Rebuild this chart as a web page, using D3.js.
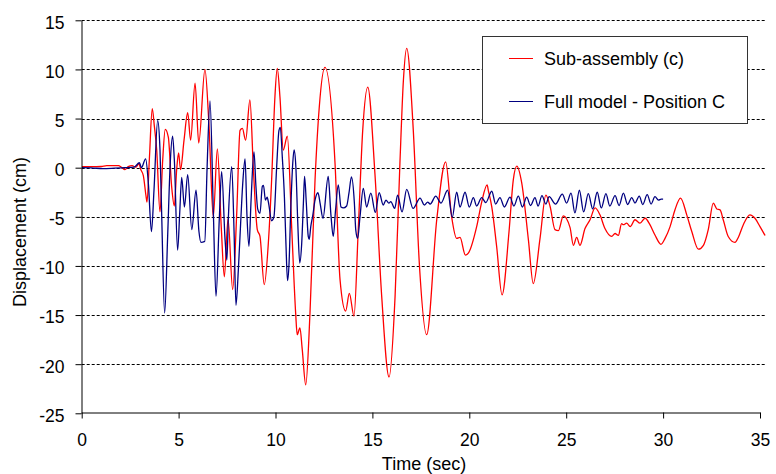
<!DOCTYPE html>
<html>
<head>
<meta charset="utf-8">
<script src="https://cdn.jsdelivr.net/npm/d3@7"></script>
<style>
  html, body { margin: 0; padding: 0; background: #fff; }
  svg { display: block; font-family: "Liberation Sans", Arial, sans-serif; }
</style>
</head>
<body>
<svg id="chart" width="776" height="474"></svg>
<script>
// Tick values for both axes
const xTicks = [0, 5, 10, 15, 20, 25, 30, 35];
const yTicks = [-25, -20, -15, -10, -5, 0, 5, 10, 15];

// Series names
const seriesNames = ["Sub-assembly (c)", "Full model - Position C"];

// Sub-assembly (c): time (s) and displacement (cm) at the turning points of the record
const subTime = [0, 0.5, 1.0, 1.3, 1.9, 2.05, 2.23, 2.4, 2.6, 2.8, 2.95, 3.05, 3.18, 3.32, 3.37, 3.49, 3.64, 3.75, 3.87, 4.04,
  4.18, 4.31, 4.47, 4.64, 4.78, 4.9, 5.0, 5.1, 5.28, 5.47, 5.62, 5.85, 6.04, 6.36, 6.57, 6.79, 7.0, 7.2, 7.36, 7.55,
  7.79, 8.0, 8.17, 8.29, 8.46, 8.68, 8.86, 9.06, 9.2, 9.42, 9.63, 9.8, 9.97, 10.09, 10.23, 10.4, 10.61, 10.84, 11.04, 11.12,
  11.26, 11.38, 11.56, 11.78, 12.04, 12.26, 12.55, 13.07, 13.33, 13.62, 13.81, 14.05, 14.27, 14.5, 14.76, 15.13, 15.48, 15.86, 16.17, 16.42,
  16.6, 16.77, 17.11, 17.42, 17.8, 18.32, 18.78, 19.09, 19.35, 19.52, 19.8, 19.95, 20.38, 20.64, 20.92, 20.98, 21.16, 21.41, 21.69, 22.05,
  22.27, 22.45, 22.7, 23.05, 23.3, 23.65, 23.95, 24.17, 24.42, 24.6, 24.85, 25.2, 25.37, 25.54, 25.71, 25.97, 26.23, 26.49, 26.74, 27.0,
  27.35, 27.52, 27.69, 27.86, 27.95, 28.12, 28.3, 28.55, 28.81, 29.07, 29.32, 29.58, 29.89, 30.1, 30.36, 30.61, 30.9, 31.22, 31.48, 31.82,
  32.08, 32.33, 32.59, 32.77, 32.94, 33.11, 33.36, 33.71, 33.88, 34.14, 34.48, 34.74, 35.0, 35.26];
const subDisp = [0.1, 0.1, 0.12, 0.2, 0.2, 0.05, -0.2, 0.1, 0.2, 0.05, 0.4, -0.2, -0.8, -2.9, -3.5, 0.8, 6.0, 4.2, 1.8, -4.5,
  0.8, 3.9, 3.1, -1.9, -3.9, -0.2, 1.5, -0.2, 2.8, 5.6, 2.8, 8.6, 2.5, 10.0, 4.2, -5.0, 1.9, -6.0, -11.1, -5.2,
  -12.4, -4.6, 3.8, 4.0, 2.8, 6.9, -0.2, -6.3, -7.0, -11.9, -7.7, -1.25, 7.2, 10.1, 7.2, 1.8, 3.2, -6.3, -14.8, -17.0,
  -16.3, -18.5, -22.1, -14.8, -1.25, 6.2, 10.2, 0.5, -11.4, -14.6, -12.8, -15.1, -6.3, 3.8, 8.2, -0.6, -13.1, -21.3, -13.1, 0.45,
  8.9, 12.15, 3.8, -9.7, -17.0, -5.3, 0.6, -5.0, -7.2, -7.1, -8.9, -8.7, -6.0, -3.5, -1.76, -2.3, -4.0, -8.0, -12.95, -6.5,
  -1.25, 0.15, -1.5, -7.35, -11.8, -7.2, -2.8, -3.95, -6.3, -6.4, -4.9, -6.1, -7.9, -7.1, -7.9, -6.2, -5.3, -4.1, -4.8, -6.2,
  -7.0, -6.7, -6.9, -5.7, -5.8, -5.65, -6.0, -5.3, -5.65, -5.15, -5.8, -6.85, -7.8, -7.2, -6.0, -4.3, -3.1, -4.8, -6.5, -8.3,
  -7.9, -6.3, -3.6, -4.2, -4.3, -5.35, -7.0, -7.6, -7.1, -5.8, -4.8, -5.15, -6.0, -6.9];

// Full model - Position C: time (s) and displacement (cm)
const fullTime = [0, 0.5, 1.1, 1.7, 2.2, 2.7, 2.98, 3.08, 3.3, 3.44, 3.6, 3.73, 3.92, 4.04, 4.13, 4.28, 4.44, 4.56, 4.69, 4.78,
  4.95, 5.06, 5.16, 5.3, 5.47, 5.68, 5.9, 6.05, 6.15, 6.35, 6.47, 6.62, 6.79, 6.93, 7.1, 7.22, 7.4, 7.49, 7.57, 7.74,
  7.86, 7.96, 8.08, 8.2, 8.31, 8.43, 8.53, 8.63, 8.74, 8.89, 8.99, 9.08, 9.2, 9.32, 9.38, 9.48, 9.57, 9.65, 9.8, 9.92,
  10.06, 10.18, 10.25, 10.35, 10.46, 10.54, 10.62, 10.7, 10.78, 10.89, 10.96, 11.05, 11.15, 11.25, 11.35, 11.44, 11.5, 11.59, 11.69, 11.74,
  11.82, 11.92, 12.04, 12.19, 12.3, 12.45, 12.72, 12.86, 12.98, 13.1, 13.24, 13.38, 13.5, 13.67, 13.79, 13.92, 14.07, 14.14, 14.24, 14.36,
  14.53, 14.7, 14.92, 15.15, 15.35, 15.56, 15.7, 15.85, 15.95, 16.15, 16.3, 16.53, 16.77, 17.1, 17.46, 17.68, 17.85, 17.98, 18.27, 18.54,
  18.88, 19.12, 19.35, 19.52, 19.78, 20.0, 20.21, 20.38, 20.64, 20.85, 21.16, 21.36, 21.58, 21.81, 22.1, 22.3, 22.53, 22.74, 22.96, 23.16,
  23.39, 23.55, 23.75, 23.95, 24.12, 24.45, 24.8, 25.02, 25.25, 25.45, 25.68, 25.9, 26.14, 26.37, 26.6, 26.81, 27.05, 27.25, 27.52, 27.73,
  27.95, 28.17, 28.38, 28.55, 28.77, 28.95, 29.18, 29.38, 29.58, 29.76, 29.9, 30.0];
const fullDisp = [0, -0.02, -0.1, -0.05, 0, 0.05, 0.5, 0.0, 0.9, -1.6, -6.5, -2.3, 4.8, 1.8, -5.0, -14.8, -6.7, 0.1, 3.2, 0.8,
  -8.4, -4.5, -1.0, -4.0, -0.7, -6.3, -2.3, -6.5, -7.6, -7.5, 0.0, 6.8, -4.3, -13.1, -5.2, -0.4, -7.4, -9.4, -5.0, 0.1,
  -6.4, -14.0, -10.5, -5.7, -1.6, 0.9, -5.0, -8.0, -3.3, 1.6, -1.9, -4.2, -4.65, -1.9, -1.8, -3.3, -3.0, -3.7, -5.4, -5.0,
  0.1, 3.8, 4.1, 1.1, -3.0, -7.8, -11.5, -9.7, -4.65, 0.45, 1.8, 0.1, -5.65, -9.7, -7.8, -3.6, -0.9, -3.6, -7.0, -7.3,
  -6.0, -4.9, -3.3, -2.55, -3.6, -5.15, -0.9, -4.8, -7.0, -4.3, -1.76, -4.0, -4.1, -3.9, -2.6, -0.95, -3.6, -6.3, -7.2, -5.0,
  -2.1, -4.0, -2.6, -4.55, -2.55, -3.8, -3.3, -3.6, -3.45, -4.15, -2.8, -4.5, -2.2, -4.15, -3.1, -3.8, -3.5, -3.7, -2.9, -3.6,
  -2.3, -5.05, -2.5, -4.0, -2.5, -4.0, -3.05, -3.9, -3.05, -3.55, -2.4, -3.7, -3.05, -4.0, -3.0, -3.9, -2.9, -4.0, -3.0, -3.85,
  -3.05, -3.9, -2.85, -3.7, -2.95, -3.7, -2.7, -3.6, -2.6, -4.6, -2.3, -4.5, -2.65, -4.2, -2.5, -4.1, -2.65, -3.9, -2.85, -3.85,
  -2.6, -3.75, -3.05, -3.6, -2.9, -3.75, -2.75, -3.7, -2.95, -3.3, -3.2, -3.2];

const seriesColors = ["#ff0000", "#000080"];

const svg = d3.select("#chart");

const plot = { left: 81.7, right: 760, top: 20.3, bottom: 413.3, gridRight: 766 };

const x = d3.scaleLinear().domain([0, 35]).range([plot.left, plot.right]);
const y = d3.scaleLinear().domain([-25, 15]).range([plot.bottom, plot.top]);

svg.append("defs").append("clipPath").attr("id", "plot-clip")
  .append("rect")
  .attr("x", plot.left).attr("y", plot.top - 2)
  .attr("width", plot.gridRight - plot.left).attr("height", plot.bottom - plot.top + 2);

// Dashed horizontal gridlines
svg.append("g").attr("class", "grid")
  .selectAll("line")
  .data(yTicks.filter(d => d > -25))
  .join("line")
  .attr("x1", plot.left).attr("x2", plot.gridRight)
  .attr("y1", d => Math.round(y(d)) + 0.5).attr("y2", d => Math.round(y(d)) + 0.5)
  .attr("stroke", "#000").attr("stroke-width", 1)
  .attr("stroke-dasharray", "3,2");

// Data lines
const seriesData = [
  d3.zip(subTime, subDisp),
  d3.zip(fullTime, fullDisp)
];

const line = d3.line()
  .x(d => x(d[0]))
  .y(d => y(d[1]))
  .curve(d3.curveMonotoneX);

svg.append("g").attr("clip-path", "url(#plot-clip)")
  .selectAll("path")
  .data(seriesData)
  .join("path")
  .attr("d", line)
  .attr("fill", "none")
  .attr("stroke", (d, i) => seriesColors[i])
  .attr("stroke-width", 1.3)
  .attr("stroke-linejoin", "round");

// Axes (plain hyphen-minus for negative labels)
const plainNum = d => String(d);

const yAxis = d3.axisLeft(y)
  .tickValues(yTicks)
  .tickSize(6)
  .tickSizeOuter(0)
  .tickPadding(11)
  .tickFormat(plainNum);

const gy = svg.append("g")
  .attr("transform", `translate(${Math.round(plot.left) - 0.5},0)`)
  .call(yAxis);

const xAxis = d3.axisBottom(x)
  .tickValues(xTicks)
  .tickSize(6)
  .tickSizeOuter(0)
  .tickPadding(15)
  .tickFormat(plainNum);

const gx = svg.append("g")
  .attr("transform", `translate(0,${Math.round(plot.bottom) - 0.5})`)
  .call(xAxis);

[gx, gy].forEach(g => {
  g.attr("font-family", null).attr("font-size", null);
  g.select(".domain").attr("stroke", "#000").attr("stroke-width", 1);
  g.selectAll(".tick line").attr("stroke", "#000");
  g.selectAll(".tick text")
    .attr("fill", "#000")
    .style("font-size", "17.5px");
});
gy.selectAll(".tick text").attr("dy", "0.45em");

// Axis titles
svg.append("text")
  .attr("x", 424).attr("y", 470)
  .attr("text-anchor", "middle")
  .style("font-size", "18px")
  .text("Time (sec)");

svg.append("text")
  .attr("transform", "translate(26,232) rotate(-90)")
  .attr("text-anchor", "middle")
  .style("font-size", "18px")
  .text("Displacement (cm)");

// Legend
const legend = svg.append("g").attr("class", "legend");
legend.append("rect")
  .attr("x", 482.5).attr("y", 36.5)
  .attr("width", 265).attr("height", 87)
  .attr("fill", "#fff")
  .attr("stroke", "#333").attr("stroke-width", 1);

const legendRows = [58.5, 101.5];
seriesNames.forEach((name, i) => {
  legend.append("line")
    .attr("x1", 509).attr("x2", 533)
    .attr("y1", legendRows[i]).attr("y2", legendRows[i])
    .attr("stroke", seriesColors[i]).attr("stroke-width", 1);
  legend.append("text")
    .attr("x", 544).attr("y", legendRows[i] + 6.5)
    .style("font-size", "18px")
    .text(name);
});
</script>
</body>
</html>
